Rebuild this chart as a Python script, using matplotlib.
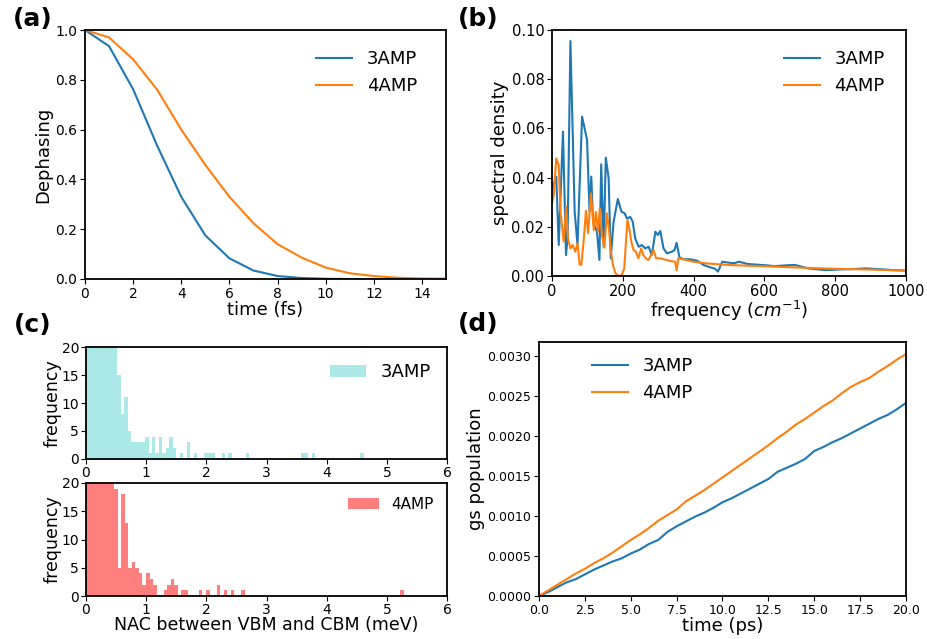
import numpy as np
import matplotlib
matplotlib.use("Agg")
import matplotlib.pyplot as plt

# (a) dephasing
t_deph = [0, 1, 2, 3, 4, 5, 6, 7, 8, 9, 10, 11, 12, 13, 14, 15]
deph_3amp = [1.0, 0.935, 0.762, 0.535, 0.33, 0.175, 0.083, 0.034, 0.012, 0.004,
             0.001, 0.0, 0.0, 0.0, 0.0, 0.0]
deph_4amp = [1.0, 0.97, 0.882, 0.76, 0.6, 0.458, 0.33, 0.224, 0.14, 0.086,
             0.046, 0.023, 0.012, 0.005, 0.002, 0.001]

# (b) spectral density
freq_3amp = [0, 7.5, 12, 19, 31, 39.5, 44, 52, 64, 72, 85, 99, 106, 111, 116, 127,
             134, 139, 146, 152, 160, 166, 174, 186, 196, 205, 212, 221, 228, 235,
             245, 254, 263, 273, 282, 292, 299, 306, 315, 325, 339, 346, 352, 360,
             371, 390, 410, 428, 447, 460, 469, 481, 500, 515, 528, 552, 570, 590,
             610, 628, 650, 670, 686, 705, 724, 750, 771, 795, 819, 850, 886, 910,
             933, 965, 1000]
sd_3amp = [0.0356, 0.0383, 0.0404, 0.0126, 0.0587, 0.0085, 0.0153, 0.0955, 0.0262,
           0.0126, 0.0648, 0.0553, 0.0262, 0.0404, 0.0221, 0.018, 0.0065, 0.0454,
           0.0119, 0.0481, 0.0397, 0.0072, 0.0221, 0.0313, 0.0262, 0.0255, 0.0234,
           0.024, 0.0221, 0.0153, 0.0119, 0.0126, 0.0112, 0.0119, 0.0085, 0.018,
           0.0167, 0.0183, 0.0112, 0.0092, 0.0099, 0.0105, 0.0135, 0.0076, 0.0068,
           0.0068, 0.0062, 0.0045, 0.0035, 0.003, 0.0018, 0.0058, 0.0054, 0.0052,
           0.0058, 0.0049, 0.0047, 0.0045, 0.0043, 0.004, 0.0042, 0.0044, 0.0045,
           0.0038, 0.0031, 0.0027, 0.0024, 0.0025, 0.0027, 0.0028, 0.0031, 0.0029,
           0.0027, 0.0024, 0.0022]
freq_4amp = [0, 5, 12, 19, 24, 28, 33, 40, 45, 52, 58, 66, 72, 78, 83, 90, 96, 102,
             110, 118, 124, 130, 135, 141, 148, 155, 161, 166, 172, 179, 186, 196,
             204, 213, 219, 224, 230, 237, 244, 252, 258, 265, 272, 280, 287, 294,
             305, 324, 338, 348, 352, 357, 371, 400, 438, 495, 590, 686, 781, 876,
             1000]
sd_4amp = [0.0295, 0.033, 0.0478, 0.0451, 0.0262, 0.0207, 0.014, 0.0282, 0.0153,
           0.0112, 0.0126, 0.0099, 0.0133, 0.0047, 0.0045, 0.0153, 0.0265, 0.0175,
           0.0336, 0.0187, 0.026, 0.018, 0.0275, 0.0167, 0.0115, 0.0255, 0.019,
           0.0105, 0.0045, 0.0012, 0.0002, 0.0001, 0.003, 0.0228, 0.0187, 0.014,
           0.0106, 0.0099, 0.0072, 0.0112, 0.0085, 0.0072, 0.0065, 0.0085, 0.0105,
           0.0072, 0.0072, 0.0065, 0.006, 0.0058, 0.0024, 0.0072, 0.0068, 0.0058,
           0.0051, 0.0045, 0.004, 0.0035, 0.003, 0.0027, 0.0022]

# (c) NAC histograms (counts per bin, first bins are cut off at 20)
nac_3amp_max = 4.62
nac_3amp_counts = [28, 45, 52, 48, 40, 35, 30, 26, 22, 15, 8, 11, 5, 3, 3, 3, 3, 4,
                   1, 4, 1, 4, 1, 2, 4, 2, 0, 1, 0, 3, 0, 1, 0, 0, 1, 1, 1, 0, 0, 1,
                   0, 1, 0, 0, 0, 0, 1, 0, 0, 0, 0, 0, 0, 0, 0, 0, 0, 0, 0, 0, 0, 0,
                   1, 1, 0, 1, 0, 0, 0, 0, 0, 0, 0, 0, 0, 0, 0, 0, 0, 1]
nac_4amp_max = 5.28
nac_4amp_counts = [30, 48, 50, 44, 38, 32, 27, 23, 19, 5, 18, 13, 5, 6, 5, 4, 2, 4,
                   3, 2, 0, 0, 1, 2, 3, 2, 0, 1, 1, 0, 0, 0, 1, 0, 1, 0, 0, 2, 0, 1,
                   0, 1, 0, 0, 1] + [0] * 44 + [1]

# (d) ground-state population
t_gs = [0.0, 0.5, 1.0, 1.5, 2.0, 2.5, 3.0, 3.5, 4.0, 4.5, 5.0, 5.5, 6.0, 6.5, 7.0,
        7.5, 8.0, 8.5, 9.0, 9.5, 10.0, 10.5, 11.0, 11.5, 12.0, 12.5, 13.0, 13.5,
        14.0, 14.5, 15.0, 15.5, 16.0, 16.5, 17.0, 17.5, 18.0, 18.5, 19.0, 19.5, 20.0]
gs_3amp = [0.0, 0.00005, 0.00011, 0.00017, 0.00021, 0.00027, 0.00033, 0.00038,
           0.00043, 0.00047, 0.00053, 0.00058, 0.00065, 0.0007, 0.0008, 0.00087,
           0.00093, 0.00099, 0.00104, 0.0011, 0.00117, 0.00122, 0.00128, 0.00134,
           0.0014, 0.00146, 0.00155, 0.0016, 0.00165, 0.00171, 0.00181, 0.00186,
           0.00192, 0.00197, 0.00203, 0.00209, 0.00215, 0.00221, 0.00226, 0.00233,
           0.00241]
gs_4amp = [0.0, 0.00007, 0.00014, 0.00021, 0.00028, 0.00034, 0.00041, 0.00047,
           0.00054, 0.00062, 0.0007, 0.00077, 0.00085, 0.00094, 0.00101, 0.00108,
           0.00118, 0.00125, 0.00132, 0.0014, 0.00148, 0.00156, 0.00164, 0.00172,
           0.0018, 0.00188, 0.00197, 0.00205, 0.00214, 0.00221, 0.00229, 0.00237,
           0.00244, 0.00253, 0.00261, 0.00267, 0.00272, 0.0028, 0.00287, 0.00295,
           0.00302]

W, H = 928, 639
fig = plt.figure(figsize=(W / 100, H / 100), dpi=100)


def px_axes(left, top, right, bottom):
    return fig.add_axes([left / W, 1 - bottom / H, (right - left) / W, (bottom - top) / H])


def style(ax, tsize=10, pad=3):
    for s in ax.spines.values():
        s.set_linewidth(1.3)
    ax.tick_params(labelsize=tsize, pad=pad)


# (a)
ax_a = px_axes(85, 30, 446, 279)
ax_a.plot(t_deph, deph_3amp, color="tab:blue", lw=1.5, label="3AMP")
ax_a.plot(t_deph, deph_4amp, color="tab:orange", lw=1.5, label="4AMP")
ax_a.set_xlim(0, 15)
ax_a.set_ylim(0, 1)
ax_a.set_xlabel("time (fs)", fontsize=13, labelpad=0)
ax_a.set_ylabel("Dephasing", fontsize=13, labelpad=2)
ax_a.legend(fontsize=13, frameon=False, loc="upper right", bbox_to_anchor=(0.965, 0.985))
style(ax_a, 10, 2)

# (b)
ax_b = px_axes(552, 30, 906, 276)
ax_b.plot(freq_3amp, sd_3amp, color="tab:blue", lw=1.5, label="3AMP")
ax_b.plot(freq_4amp, sd_4amp, color="tab:orange", lw=1.5, label="4AMP")
ax_b.set_xlim(0, 1000)
ax_b.set_ylim(0, 0.1)
ax_b.set_xlabel("frequency ($cm^{-1}$)", fontsize=13, labelpad=0)
ax_b.set_ylabel("spectral density", fontsize=13, labelpad=2)
ax_b.legend(fontsize=13, frameon=False, loc="upper right", bbox_to_anchor=(0.985, 0.985))
style(ax_b, 10.5, 2)

# (c)
edges_3 = np.linspace(0, nac_3amp_max, len(nac_3amp_counts) + 1)
edges_4 = np.linspace(0, nac_4amp_max, len(nac_4amp_counts) + 1)
ax_c1 = px_axes(86, 347, 447, 459)
ax_c1.hist(edges_3[:-1], bins=edges_3, weights=nac_3amp_counts, color="c", alpha=0.33,
           label="3AMP")
ax_c1.set_xlim(0, 6)
ax_c1.set_ylim(0, 20)
ax_c1.set_yticks([0, 5, 10, 15, 20])
ax_c1.set_ylabel("frequency", fontsize=12.5, labelpad=0)
ax_c1.legend(fontsize=13, frameon=False, loc="upper right", bbox_to_anchor=(1.0, 1.0))
style(ax_c1, 10, 1.5)

ax_c2 = px_axes(86, 483, 447, 596)
ax_c2.hist(edges_4[:-1], bins=edges_4, weights=nac_4amp_counts, color="r", alpha=0.5,
           label="4AMP")
ax_c2.set_xlim(0, 6)
ax_c2.set_ylim(0, 20)
ax_c2.set_yticks([0, 5, 10, 15, 20])
ax_c2.set_ylabel("frequency", fontsize=12.5, labelpad=0)
ax_c2.set_xlabel("NAC between VBM and CBM (meV)", fontsize=12.5, labelpad=-1)
ax_c2.legend(fontsize=11, frameon=False, loc="upper right", bbox_to_anchor=(1.0, 1.0))
style(ax_c2, 10, 1.5)

# (d)
ax_d = px_axes(539, 342, 906, 596)
ax_d.plot(t_gs, gs_3amp, color="tab:blue", lw=1.5, label="3AMP")
ax_d.plot(t_gs, gs_4amp, color="tab:orange", lw=1.5, label="4AMP")
ax_d.set_xlim(0, 20)
ax_d.set_ylim(0, 0.00317)
ax_d.set_xlabel("time (ps)", fontsize=13, labelpad=0)
ax_d.set_ylabel("gs population", fontsize=13, labelpad=2)
ax_d.legend(fontsize=13, frameon=False, loc="upper left", bbox_to_anchor=(0.1, 1.005))
style(ax_d, 9, 2)

for lab, x, y in [("(a)", 33, 19), ("(b)", 478, 19), ("(c)", 33, 325), ("(d)", 478, 324)]:
    fig.text(x / W, 1 - y / H, lab, fontsize=18, fontweight="bold", ha="center", va="center")

fig.savefig("out.png", dpi=100)
